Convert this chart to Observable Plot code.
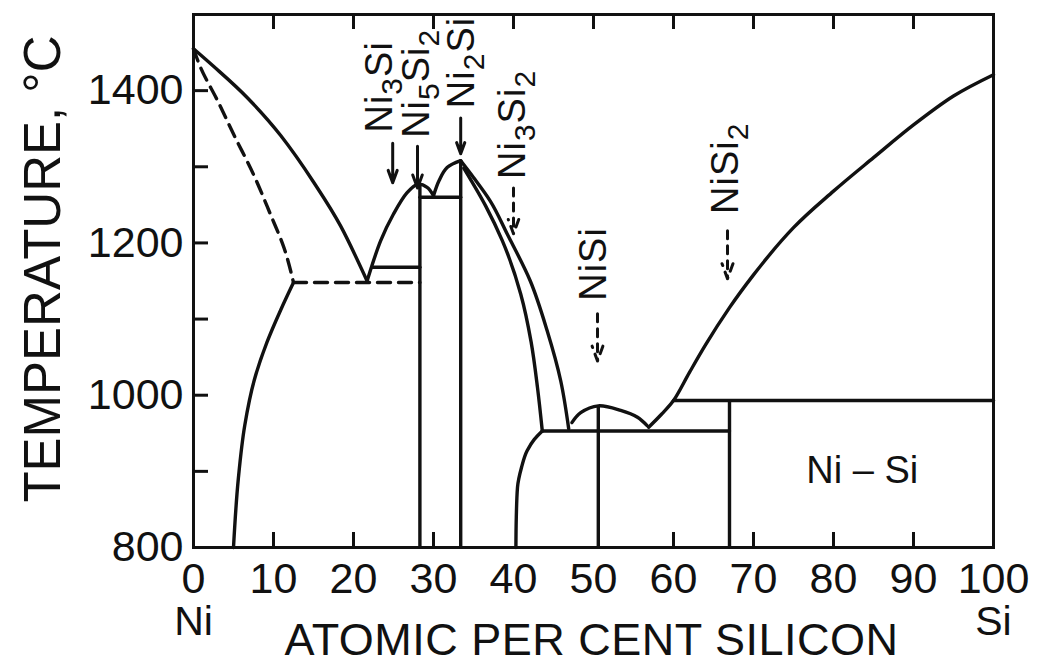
<!DOCTYPE html>
<html><head><meta charset="utf-8">
<script src="https://cdn.jsdelivr.net/npm/d3@7"></script>
<script src="https://cdn.jsdelivr.net/npm/@observablehq/plot@0.6"></script>
<style>body{margin:0;background:#fff;} #chart{width:1043px;height:665px;overflow:hidden;}</style>
</head><body><div id="chart"></div>
<script>
// ---- Data (atomic % Si, temperature °C) ----
const liqNiX = [0, 2.5, 6.7, 10.9, 15.0, 18.4, 21.7];
const liqNiT = [1455, 1432, 1391, 1341, 1280, 1222, 1150];
const solNiX = [0, 0.9, 3.0, 5.0, 7.5, 9.6, 11.3, 12.5];
const solNiT = [1455, 1430, 1387, 1343, 1290, 1238, 1194, 1148];
const solvNiX = [12.5, 10.9, 9.2, 7.6, 6.4, 5.6, 5.0];
const solvNiT = [1148, 1112, 1070, 1020, 960, 890, 800];
const eutDashX = [12.5, 28.3];
const eutDashT = [1148, 1148];
const peritNi3SiX = [22.3, 28.3];
const peritNi3SiT = [1168, 1168];
const liqNi5Si2X = [21.7, 23.4, 25.0, 26.7, 28.0, 29.2, 30.0];
const liqNi5Si2T = [1150, 1203, 1238, 1266, 1277, 1273, 1262];
const domeNi2SiX = [30.0, 30.7, 31.7, 33.4];
const domeNi2SiT = [1262, 1282, 1299, 1308];
const eut1260X = [28.3, 33.4];
const eut1260T = [1260, 1260];
const outerX = [33.4, 35.0, 37.1, 39.2, 42.1, 44.2, 45.9, 46.9];
const outerT = [1308, 1286, 1255, 1212, 1150, 1085, 1019, 956];
const innerX = [33.8, 36.5, 38.6, 40.9, 42.2, 43.0, 43.6];
const innerT = [1298, 1249, 1203, 1133, 1070, 1010, 953];
const eut953X = [43.6, 67.0];
const eut953T = [953, 953];
const solvNi3Si2X = [43.6, 42.6, 41.7, 41.0, 40.5, 40.35, 40.3];
const solvNi3Si2T = [953, 942, 927, 905, 879, 840, 800];
const domeNiSiX = [47.3, 48.4, 50.6, 53.4, 55.5, 56.7];
const domeNiSiT = [964, 977, 986, 980, 971, 960];
const liqSiX = [56.9, 58.5, 60.0, 62.0, 64.0, 67.0, 70.0, 75.0, 80.0, 85.0, 90.0, 95.0, 100];
const liqSiT = [958, 975, 993, 1030, 1066, 1115, 1158, 1220, 1268, 1312, 1355, 1393, 1421];
const perit993X = [60.0, 100];
const perit993T = [993, 993];
const compoundX = [28.3, 33.4, 50.6, 67.0];
const compoundTopT = [1276, 1308, 986, 993];
const compoundBottomT = [800, 800, 800, 800];

// compound labels (rotated) and arrows
const formulaNames = ["Ni3Si", "Ni5Si2", "Ni2Si", "Ni3Si2", "NiSi", "NiSi2"];
const formulaX = [23.25, 27.9, 33.6, 39.9, 50.1, 66.6];
const formulaT = [1345, 1338, 1377, 1284, 1124, 1238];
const arrowX = [24.9, 28.0, 33.4, 40.0, 50.5, 66.75];
const arrowT1 = [1331, 1327, 1364, 1272, 1107, 1216];
const arrowT2 = [1279, 1272, 1317, 1212, 1045, 1153];
const arrowDashed = [false, false, false, true, true, true];

const systemLabel = "Ni – Si";
const systemX = 83.6, systemT = 901;

// axes
const xLabelTicks = [0, 10, 20, 30, 40, 50, 60, 70, 80, 90, 100];
const yLabelTicks = [800, 1000, 1200, 1400];
const topTicks = [10, 20, 30, 40, 50, 60, 70, 80, 90];
const bottomTicks = [10, 20, 30, 60, 70, 80, 90];
const leftTicks = [900, 1000, 1100, 1200, 1300, 1400];
const endLabels = ["Ni", "Si"];
const endLabelX = [0, 100];
const xTitle = "ATOMIC PER CENT SILICON";
const yTitle = "TEMPERATURE, °C";

// ---- Build ----
const pts = (xs, ts) => xs.map((x, i) => ({x, t: ts[i]}));
const W = 1043, H = 665, mL = 193, mR = 50, mT = 14, mB = 118;
const innerW = W - mL - mR, innerH = H - mT - mB;
const ink = "#111";
const lw = 3.4;
const solid = (xs, ts, curve = "catmull-rom") =>
  Plot.line(pts(xs, ts), {x: "x", y: "t", curve, stroke: ink, strokeWidth: lw, strokeLinejoin: "round", strokeLinecap: "round"});
const dashed = (xs, ts, curve = "catmull-rom") =>
  Plot.line(pts(xs, ts), {x: "x", y: "t", curve, stroke: ink, strokeWidth: lw, strokeDasharray: "13,8"});

const formulas = formulaNames.map((name, i) => ({name, x: formulaX[i], t: formulaT[i]}));
const arrows = arrowX.map((x, i) => ({x, t1: arrowT1[i], t2: arrowT2[i], dashed: arrowDashed[i]}));
const verticals = compoundX.map((x, i) => ({x, t1: compoundBottomT[i], t2: compoundTopT[i]}));

const svg = Plot.plot({
  width: W, height: H,
  marginLeft: mL, marginRight: mR, marginTop: mT, marginBottom: mB,
  x: {domain: [0, 100], axis: null},
  y: {domain: [800, 1500], axis: null},
  style: {fontFamily: "'Liberation Sans', Arial, sans-serif", fontSize: "43px", background: "#fff", color: ink},
  marks: [
    Plot.frame({stroke: ink, strokeWidth: 3}),
    Plot.tickX(topTicks, {x: d => d, insetBottom: innerH - 15, stroke: ink, strokeWidth: 3}),
    Plot.tickX(bottomTicks, {x: d => d, insetTop: innerH - 15, stroke: ink, strokeWidth: 3}),
    Plot.tickY(leftTicks, {y: d => d, insetRight: innerW - 15, stroke: ink, strokeWidth: 3}),
    Plot.axisX({ticks: xLabelTicks, tickSize: 0, tickPadding: 15, fontSize: 43, label: null, tickFormat: d => String(d)}),
    Plot.axisY({ticks: yLabelTicks, tickSize: 0, tickPadding: 10, fontSize: 43, label: null, tickFormat: d => String(d)}),
    Plot.text(endLabels, {x: (d, i) => endLabelX[i], frameAnchor: "bottom", dy: 58, lineAnchor: "top", fontSize: 41, text: d => d, fill: ink}),
    Plot.text([xTitle], {frameAnchor: "bottom", dy: 76, dx: -2, lineAnchor: "top", fontSize: 45, text: d => d, fill: ink}),
    Plot.text([yTitle], {frameAnchor: "left", textAnchor: "middle", dx: -150, dy: -12, rotate: -90, fontSize: 51, text: d => d, fill: ink}),
    // phase boundaries
    solid(liqNiX, liqNiT, "monotone-x"),
    dashed(solNiX, solNiT, "monotone-y"),
    solid(solvNiX, solvNiT, "monotone-y"),
    dashed(eutDashX, eutDashT, "linear"),
    solid(peritNi3SiX, peritNi3SiT, "linear"),
    solid(liqNi5Si2X, liqNi5Si2T),
    solid(domeNi2SiX, domeNi2SiT),
    solid(eut1260X, eut1260T, "linear"),
    solid(outerX, outerT, "monotone-y"),
    solid(innerX, innerT, "monotone-y"),
    solid(eut953X, eut953T, "linear"),
    solid(solvNi3Si2X, solvNi3Si2T, "monotone-y"),
    solid(domeNiSiX, domeNiSiT),
    solid(liqSiX, liqSiT, "monotone-x"),
    solid(perit993X, perit993T, "linear"),
    Plot.ruleX(verticals, {x: "x", y1: "t1", y2: "t2", stroke: ink, strokeWidth: lw}),
    // labels and arrows
    Plot.text(formulas, {x: "x", y: "t", text: "name", rotate: -90, textAnchor: "start", fontSize: 38, fill: ink}),
    Plot.arrow(arrows.filter(d => !d.dashed), {x1: "x", x2: "x", y1: "t1", y2: "t2", stroke: ink, strokeWidth: 3, headLength: 14, headAngle: 40}),
    Plot.arrow(arrows.filter(d => d.dashed), {x1: "x", x2: "x", y1: "t1", y2: "t2", stroke: ink, strokeWidth: 3, headLength: 14, headAngle: 40, strokeDasharray: "8,7"}),
    Plot.text([systemLabel], {x: () => systemX, y: () => systemT, text: d => d, fontSize: 38, fill: ink})
  ]
});

// subscripts for chemical formulas
d3.select(svg).selectAll("text")
  .filter(function () { return formulaNames.includes(this.textContent) && (this.getAttribute("transform") || "").includes("rotate"); })
  .style("letter-spacing", "1px")
  .each(function () {
    const el = d3.select(this);
    const s = el.text();
    el.text(null);
    let off = 0;
    for (const part of s.match(/\d+|\D+/g)) {
      const sub = /\d/.test(part);
      const target = sub ? 10 : 0;
      el.append("tspan").attr("dy", target - off).attr("font-size", sub ? 30 : null).text(part);
      off = target;
    }
  });
d3.select(svg).selectAll("text")
  .filter(function () { return this.textContent === xTitle; })
  .style("letter-spacing", "0.5px");

document.getElementById("chart").appendChild(svg);
</script></body></html>
